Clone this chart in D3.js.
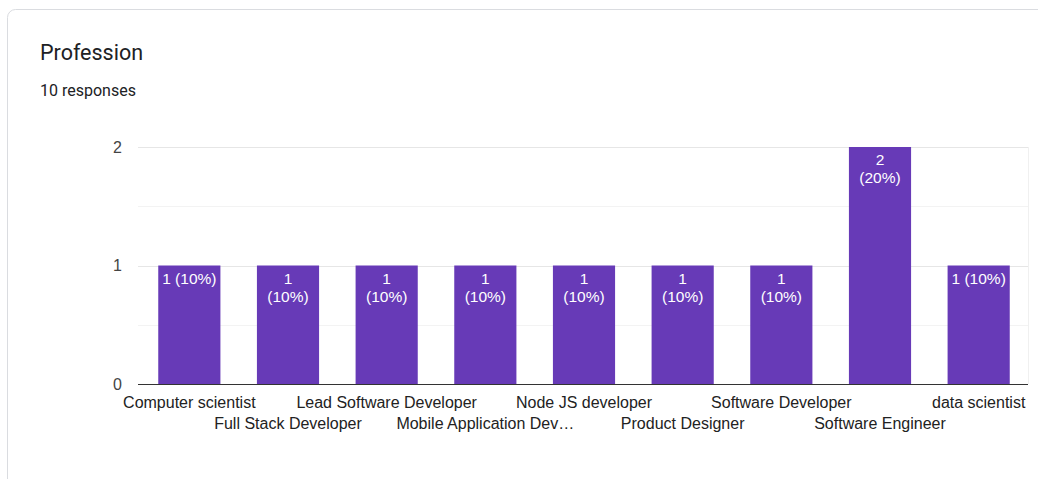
<!DOCTYPE html>
<html>
<head>
<meta charset="utf-8">
<script src="https://cdn.jsdelivr.net/npm/d3@7"></script>
<style>
  html, body { margin: 0; padding: 0; background: #fff; }
  svg { display: block; }
</style>
</head>
<body>
<svg id="chart" width="1038" height="479"></svg>
<script>
// Survey answers: profession and number of responses
const categories = [
  "Computer scientist",
  "Full Stack Developer",
  "Lead Software Developer",
  "Mobile Application Dev\u2026",
  "Node JS developer",
  "Product Designer",
  "Software Developer",
  "Software Engineer",
  "data scientist"
];
const counts = [1, 1, 1, 1, 1, 1, 1, 2, 1];
const yTicks = [0, 1, 2];
const totalResponses = 10;
// whether the in-bar label is split over two lines
const labelWrapped = [false, true, true, true, true, true, true, true, false];

const svg = d3.select("#chart");
const W = 1038, H = 479;
const labelFont = "Arial, 'Liberation Sans', sans-serif";

// card
svg.append("rect")
  .attr("x", 7.5).attr("y", 9.5)
  .attr("width", W + 20).attr("height", H + 20)
  .attr("rx", 8).attr("ry", 8)
  .attr("fill", "#fff").attr("stroke", "#dadce0");

svg.append("text")
  .attr("x", 40).attr("y", 60)
  .attr("font-family", "Roboto, 'Open Sans', sans-serif")
  .attr("font-size", 21.5).attr("fill", "#202124")
  .text("Profession");

svg.append("text")
  .attr("x", 40).attr("y", 96)
  .attr("font-family", "Roboto, 'Open Sans', sans-serif")
  .attr("font-size", 16).attr("fill", "#202124")
  .text(totalResponses + " responses");

const plot = { left: 140, right: 1028, top: 147, bottom: 384 };

const x = d3.scaleBand()
  .domain(categories)
  .range([plot.left, plot.right])
  .paddingInner(0.37)
  .paddingOuter(0.185);

const y = d3.scaleLinear()
  .domain([0, 2])
  .range([plot.bottom, plot.top]);

// minor gridlines
const minor = [0.5, 1.5];
svg.append("g").selectAll("line").data(minor).join("line")
  .attr("x1", plot.left - 2).attr("x2", plot.right)
  .attr("y1", d => Math.round(y(d)) + 0.5).attr("y2", d => Math.round(y(d)) + 0.5)
  .attr("stroke", "#f3f3f3");

// major gridlines
svg.append("g").selectAll("line").data(yTicks.filter(d => d > 0)).join("line")
  .attr("x1", plot.left - 2).attr("x2", plot.right)
  .attr("y1", d => Math.round(y(d)) + 0.5).attr("y2", d => Math.round(y(d)) + 0.5)
  .attr("stroke", "#e6e6e6");

// right edge of plot area
svg.append("line")
  .attr("x1", plot.right + 0.5).attr("x2", plot.right + 0.5)
  .attr("y1", plot.top).attr("y2", plot.bottom)
  .attr("stroke", "#f0f0f0");

// y axis labels
const yAxis = d3.axisLeft(y).tickValues(yTicks).tickSize(0).tickPadding(0).tickFormat(d3.format("d"));
const yg = svg.append("g").attr("transform", `translate(${plot.left - 18},0)`).call(yAxis);
yg.select(".domain").remove();
yg.selectAll("text")
  .attr("font-family", labelFont).attr("font-size", 16).attr("fill", "#444")
  .attr("dy", "0.32em");

// bars
const data = categories.map((c, i) => ({ c, v: counts[i], wrap: labelWrapped[i] }));
svg.append("g").selectAll("rect").data(data).join("rect")
  .attr("x", d => x(d.c))
  .attr("y", d => y(d.v))
  .attr("width", x.bandwidth())
  .attr("height", d => y(0) - y(d.v))
  .attr("fill", "#673ab7");

// value labels inside bars
const fmtPct = v => Math.round(v / totalResponses * 100) + "%";
const lbl = svg.append("g").selectAll("text").data(data).join("text")
  .attr("x", d => x(d.c) + x.bandwidth() / 2)
  .attr("y", d => y(d.v) + 18)
  .attr("text-anchor", "middle")
  .attr("font-family", labelFont).attr("font-size", 15.5).attr("fill", "#fff");
lbl.each(function (d) {
  const t = d3.select(this);
  if (d.wrap) {
    t.append("tspan").attr("x", x(d.c) + x.bandwidth() / 2).text(d.v);
    t.append("tspan").attr("x", x(d.c) + x.bandwidth() / 2).attr("dy", 18).text(`(${fmtPct(d.v)})`);
  } else {
    t.text(`${d.v} (${fmtPct(d.v)})`);
  }
});

// baseline
svg.append("line")
  .attr("x1", plot.left - 2).attr("x2", plot.right)
  .attr("y1", y(0) + 0.5).attr("y2", y(0) + 0.5)
  .attr("stroke", "#333").attr("stroke-width", 1);

// category labels, staggered in two rows
const xAxis = d3.axisBottom(x).tickSize(0).tickPadding(0);
const xg = svg.append("g").attr("transform", `translate(0,${plot.bottom})`).call(xAxis);
xg.select(".domain").remove();
xg.selectAll("text")
  .attr("font-family", labelFont).attr("font-size", 16).attr("fill", "#222")
  .attr("dy", null)
  .attr("y", (d, i) => i % 2 === 0 ? 24 : 45);
</script>
</body>
</html>
